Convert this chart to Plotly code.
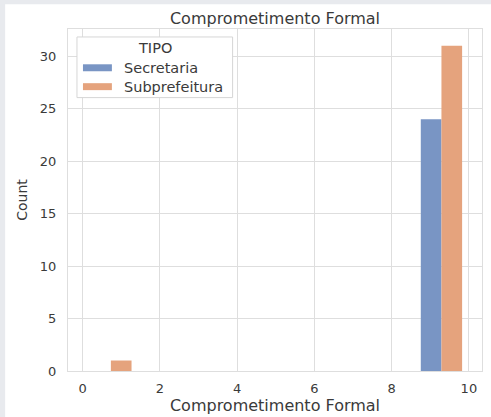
import plotly.graph_objects as go

# Histogram bins (left/right halves dodged per hue)
bin_centers = [0.73, 9.29]
bin_width = 1.07
secretaria_counts = [0, 24]
subprefeitura_counts = [1, 31]
series_names = ["Secretaria", "Subprefeitura"]
legend_title = "TIPO"
x_ticks = [0, 2, 4, 6, 8, 10]
y_ticks = [0, 5, 10, 15, 20, 25, 30]

FONT = "DejaVu Sans"
TXT = "#3a3a3a"
GRID = "#dedede"
COLORS = ["#7995c4", "#e5a37d"]
EDGE_BG = "#e8eaee"

half = bin_width / 2

fig = go.Figure()
fig.add_trace(go.Bar(
    x=bin_centers, y=secretaria_counts, name=series_names[0],
    width=half, offset=-half, showlegend=False,
    marker=dict(color=COLORS[0], line=dict(width=0)),
))
fig.add_trace(go.Bar(
    x=bin_centers, y=subprefeitura_counts, name=series_names[1],
    width=half, offset=0, showlegend=False,
    marker=dict(color=COLORS[1], line=dict(width=0)),
))

PW, PH = 415, 344
L, T, B = 68, 29, 373


def px(x):
    return (x - L) / PW


def py(y):
    return (B - y) / PH


# grey strips at left and top edges of the picture
fig.add_shape(type="rect", xref="paper", yref="paper",
              x0=px(-2), x1=px(5), y0=py(420), y1=py(-2),
              fillcolor=EDGE_BG, line=dict(width=0))
fig.add_shape(type="rect", xref="paper", yref="paper",
              x0=px(-2), x1=px(493), y0=py(4), y1=py(-2),
              fillcolor=EDGE_BG, line=dict(width=0))

# legend box
fig.add_shape(
    type="rect", xref="paper", yref="paper",
    x0=px(77), x1=px(233), y0=py(98), y1=py(37),
    fillcolor="white", line=dict(color="#d6d6d6", width=1),
)
fig.add_annotation(
    xref="paper", yref="paper", x=px(155), y=py(48), text=legend_title,
    showarrow=False, xanchor="center", yanchor="middle",
    font=dict(size=14.5, color=TXT, family=FONT),
)
for i, (name, yc) in enumerate(zip(series_names, [68, 87])):
    fig.add_shape(
        type="rect", xref="paper", yref="paper",
        x0=px(83), x1=px(112), y0=py(yc + 3.5), y1=py(yc - 3.5),
        fillcolor=COLORS[i], line=dict(width=0),
    )
    fig.add_annotation(
        xref="paper", yref="paper", x=px(122), y=py(yc), text=name,
        showarrow=False, xanchor="left", yanchor="middle",
        font=dict(size=14.5, color=TXT, family=FONT),
    )

fig.update_layout(
    width=491, height=417, autosize=False,
    margin=dict(l=L, r=491 - 483, t=T, b=417 - B),
    paper_bgcolor="white",
    plot_bgcolor="white",
    barmode="overlay",
    showlegend=False,
    font=dict(family=FONT, color=TXT, size=13),
    title=dict(text="Comprometimento Formal", x=275 / 491, xanchor="center",
               y=1 - 18 / 417, yanchor="middle", font=dict(size=16, color=TXT)),
)
fig.update_xaxes(
    range=[-0.38, 10.34], tickmode="array", tickvals=x_ticks,
    ticktext=[str(v) for v in x_ticks],
    showgrid=True, gridcolor=GRID,
    zeroline=False, showline=True, mirror=True, linecolor=GRID,
    ticks="outside", ticklen=5, tickcolor="rgba(0,0,0,0)",
    tickfont=dict(size=13), ticklabeloverflow="allow",
    title=dict(text="Comprometimento Formal", font=dict(size=16), standoff=2),
)
fig.update_yaxes(
    range=[0, 32.6], tickvals=y_ticks, showgrid=True, gridcolor=GRID,
    zeroline=False, showline=True, mirror=True, linecolor=GRID,
    ticks="", tickfont=dict(size=13), ticklabelstandoff=8,
    title=dict(text="Count", font=dict(size=14), standoff=8),
)

fig.write_html(
    "out.html",
    config={"displayModeBar": False, "responsive": False},
    post_script=(
        "document.body.style.margin='0';"
        "document.body.style.overflow='hidden';"
        "document.documentElement.style.overflow='hidden';"
        "var gd=document.getElementById('{plot_id}');"
        "gd.querySelectorAll('.xtick text, .ytick text').forEach(function(t){"
        "t.style.display='';t.removeAttribute('display');"
        "t.style.opacity='1';t.removeAttribute('opacity');});"
    ),
)
